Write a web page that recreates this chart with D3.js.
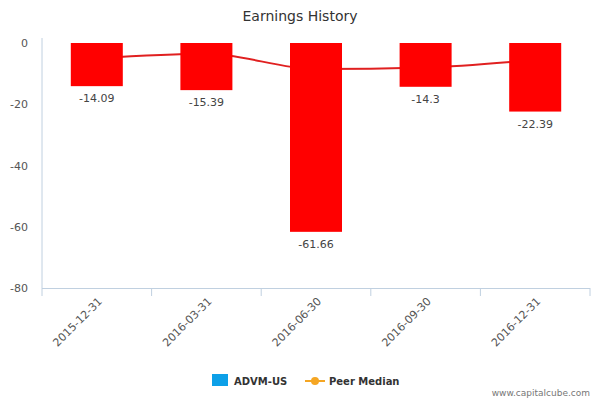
<!DOCTYPE html>
<html><head><meta charset="utf-8">
<script src="https://d3js.org/d3.v7.min.js"></script>
<style>body{margin:0;background:#fff}text{font-family:"DejaVu Sans",sans-serif}</style>
</head><body><svg id="c" width="600" height="400"></svg>
<script>
const categories=["2015-12-31","2016-03-31","2016-06-30","2016-09-30","2016-12-31"];
const values=[-14.09,-15.39,-61.66,-14.3,-22.39];
const labels=["-14.09","-15.39","-61.66","-14.3","-22.39"];
const peerMedian=[-5,-3.5,-8.5,-8,-5.5];
const yTicks=[0,-20,-40,-60,-80];

const svg=d3.select("#c");
const L=42,R=590,T=43,B=288;
const x=d3.scaleBand().domain(categories).range([L,R]);
const y=d3.scaleLinear().domain([-80,0]).range([B,T]);

svg.append("text").attr("x",300).attr("y",21).attr("text-anchor","middle")
 .attr("font-size",14).attr("fill","#333").text("Earnings History");

// y axis labels
svg.selectAll(".yt").data(yTicks).join("text").attr("x",28).attr("y",d=>y(d)+4)
 .attr("text-anchor","end").attr("font-size",11).attr("fill","#555").text(d=>d);
svg.append("line").attr("x1",L).attr("x2",L).attr("y1",T-5).attr("y2",B).attr("stroke","#c0d0e0");

// x axis
svg.append("line").attr("x1",L).attr("x2",R).attr("y1",B+0.5).attr("y2",B+0.5).attr("stroke","#c0d0e0");
svg.selectAll(".xtk").data(categories.concat(["__end"])).join("line")
 .attr("x1",(d,i)=>L+i*x.bandwidth()).attr("x2",(d,i)=>L+i*x.bandwidth())
 .attr("y1",B).attr("y2",B+8).attr("stroke","#c0d0e0");
svg.selectAll(".xl").data(categories).join("text")
 .attr("transform",d=>`translate(${x(d)+x.bandwidth()/2+6},${B+14}) rotate(-45)`)
 .attr("text-anchor","end").attr("font-size",11).attr("fill","#555").text(d=>d);

// peer line
const line=d3.line().x((d,i)=>x(categories[i])+x.bandwidth()/2).y(d=>y(d)).curve(d3.curveMonotoneX);
svg.append("path").attr("d",line(peerMedian)).attr("fill","none").attr("stroke","#e02020").attr("stroke-width",2);

// bars
const bw=52;
svg.selectAll(".bar").data(values).join("rect")
 .attr("x",(d,i)=>x(categories[i])+x.bandwidth()/2-bw/2).attr("width",bw)
 .attr("y",y(0)).attr("height",d=>y(d)-y(0)).attr("fill","#ff0000");
svg.selectAll(".bl").data(values).join("text")
 .attr("x",(d,i)=>x(categories[i])+x.bandwidth()/2).attr("y",d=>y(d)+16)
 .attr("text-anchor","middle").attr("font-size",11).attr("fill","#444").text((d,i)=>labels[i]);

// legend
svg.append("rect").attr("x",212).attr("y",374).attr("width",16).attr("height",12).attr("fill","#0da0e8");
svg.append("text").attr("x",234).attr("y",385).attr("font-size",10).attr("font-weight","bold").attr("fill","#333").text("ADVM-US");
svg.append("line").attr("x1",305).attr("x2",325).attr("y1",381).attr("y2",381).attr("stroke","#f5a623").attr("stroke-width",2);
svg.append("circle").attr("cx",315).attr("cy",381).attr("r",4).attr("fill","#f5a623");
svg.append("text").attr("x",329).attr("y",385).attr("font-size",10).attr("font-weight","bold").attr("fill","#333").text("Peer Median");
svg.append("text").attr("x",590).attr("y",396).attr("text-anchor","end").attr("font-size",9).attr("fill","#777").text("www.capitalcube.com");
</script></body></html>
